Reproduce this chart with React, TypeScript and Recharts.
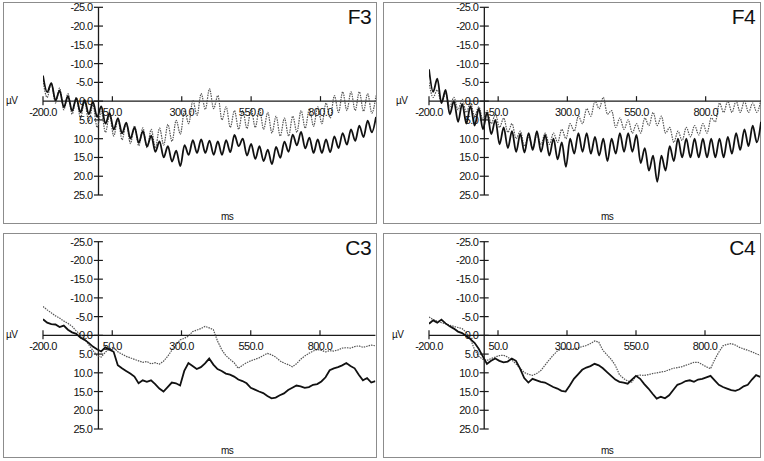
import React from 'react';
import { LineChart, Line, XAxis, YAxis, ReferenceLine, ReferenceDot } from 'recharts';

// sample times (ms) shared by every trace
const times = [
  -200, -185, -170, -155, -140, -125, -110, -95, -80, -65,
  -50, -35, -20, -5, 10, 25, 40, 55, 70, 85,
  100, 115, 130, 145, 160, 175, 190, 205, 220, 235,
  250, 265, 280, 295, 310, 325, 340, 355, 370, 385,
  400, 415, 430, 445, 460, 475, 490, 505, 520, 535,
  550, 565, 580, 595, 610, 625, 640, 655, 670, 685,
  700, 715, 730, 745, 760, 775, 790, 805, 820, 835,
  850, 865, 880, 895, 910, 925, 940, 955, 970, 985,
  1000,
];

const xTicks = [-200, 50, 300, 550, 800];
const yTicks = [-25, -20, -15, -10, -5, 0, 5, 10, 15, 20, 25];

// µV, negative up
const f3Solid = [
  -6.8, -2.4, -4.8, -0.2, -2.8, 1.6, -1.3, 2.6, -0.8, 3.0,
  -0.3, 3.5, 0.2, 4.2, 1.4, 6.0, 3.2, 7.6, 4.5, 8.6,
  5.7, 10.0, 7.0, 11.1, 8.0, 12.1, 9.2, 13.5, 10.7, 15.0,
  12.0, 16.1, 13.2, 17.3, 11.7, 14.3, 10.4, 13.8, 10.2, 13.8,
  10.5, 14.3, 10.7, 14.3, 10.4, 13.6, 9.0, 12.0, 10.0, 14.5,
  11.4, 15.4, 12.0, 16.0, 12.9, 16.8, 12.2, 15.1, 10.8, 13.5,
  8.9, 11.8, 8.2, 12.6, 9.7, 13.8, 10.2, 13.8, 10.2, 13.6,
  9.4, 12.5, 8.5, 11.6, 7.5, 10.6, 6.5, 9.6, 5.2, 8.3,
  4.2,
];
const f3Dotted = [
  -5.5, -1.0, -4.8, 0.5, -3.5, 2.3, -2.0, 3.5, -1.0, 4.5,
  0.0, 5.5, 1.0, 7.0, 2.8, 8.3, 3.8, 9.3, 4.8, 10.3,
  5.8, 11.3, 6.6, 11.9, 7.1, 12.4, 7.5, 12.5, 7.2, 11.7,
  6.2, 10.7, 5.1, 8.8, 2.5, 6.0, -0.2, 3.8, -2.0, 2.2,
  -3.3, 2.0, -1.5, 5.0, 1.5, 7.0, 2.5, 7.5, 2.5, 7.3,
  2.0, 7.0, 2.0, 7.5, 3.0, 8.5, 4.0, 9.3, 4.5, 9.3,
  4.0, 8.3, 2.5, 7.2, 2.0, 6.7, 1.5, 6.0, 0.5, 4.5,
  -1.5, 3.0, -2.5, 2.5, -2.5, 2.5, -2.5, 2.7, -2.0, 3.2,
  -1.5,
];

const f4Solid = [
  -8.5, -2.5, -6.0, 0.5, -3.0, 3.5, 0.0, 5.5, 0.7, 6.0,
  1.3, 6.5, 2.0, 7.5, 3.0, 8.8, 5.0, 11.5, 7.0, 12.5,
  8.0, 13.5, 8.7, 13.7, 8.5, 13.0, 8.0, 13.5, 9.0, 14.5,
  10.0, 15.5, 11.0, 17.5, 10.0, 14.0, 8.5, 13.5, 8.5, 14.0,
  9.5, 14.5, 10.0, 16.0, 10.0, 14.0, 8.5, 13.5, 8.5, 13.5,
  9.0, 16.5, 12.5, 18.5, 14.5, 21.5, 14.5, 18.5, 12.0, 16.0,
  10.0, 15.0, 10.0, 15.0, 10.0, 15.0, 10.0, 15.0, 10.0, 15.0,
  10.0, 15.0, 9.5, 14.0, 8.5, 13.0, 7.5, 12.0, 6.5, 11.0,
  5.5,
];
const f4Dotted = [
  -5.0, -1.0, -3.0, 0.5, -2.0, 1.5, -1.0, 2.3, -0.5, 3.0,
  0.5, 4.0, 1.5, 5.0, 2.5, 6.0, 3.5, 7.0, 4.5, 8.3,
  6.0, 10.0, 8.0, 12.0, 9.5, 12.5, 9.0, 11.5, 8.5, 11.5,
  8.5, 11.0, 7.5, 10.0, 6.0, 8.0, 4.0, 6.0, 2.0, 4.0,
  0.0, 2.0, -1.0, 3.5, 2.5, 7.0, 4.5, 7.5, 5.0, 8.5,
  6.0, 8.5, 4.5, 6.5, 3.0, 6.5, 4.0, 8.5, 7.0, 11.0,
  8.0, 10.5, 7.0, 9.5, 6.5, 9.0, 6.0, 8.5, 4.5, 5.5,
  0.5, 3.0, 0.0, 3.0, 0.0, 3.0, 0.0, 3.0, 0.5, 3.0,
  -0.5,
];

const c3Solid = [
  -4.3, -3.4, -3.0, -2.9, -2.2, -2.6, -1.5, -0.8, -0.4, 0.6,
  1.2, 2.0, 3.0, 3.7, 4.3, 3.2, 3.8, 4.4, 8.0, 8.8,
  9.5, 10.2, 11.0, 12.8, 12.0, 12.4, 12.0, 13.0, 14.2, 15.0,
  13.8, 12.6, 12.8, 13.4, 9.5, 7.4, 8.2, 9.0, 8.5, 7.5,
  6.2, 7.8, 9.0, 9.5, 10.2, 10.5, 11.0, 11.8, 12.2, 12.8,
  14.0, 14.5, 15.0, 15.4, 16.2, 16.8, 16.6, 16.0, 15.5, 14.6,
  14.0, 13.4, 13.6, 14.0, 13.8, 13.2, 13.0, 12.3, 11.2, 9.3,
  8.8, 8.5, 8.0, 7.4, 8.2, 8.8, 10.5, 12.0, 11.4, 12.6,
  12.2,
];
const c3Dotted = [
  -7.7, -6.8, -6.0, -5.2, -4.6, -3.8, -3.2, -2.4, -1.2, -0.2,
  0.8, 2.5, 4.0, 5.4, 5.8, 4.5, 3.6, 3.2, 4.4, 5.0,
  5.6, 6.0, 6.4, 6.8, 7.2, 7.0, 7.6, 7.3, 7.7, 6.9,
  5.6, 4.0, 2.6, 1.2, 0.8, 0.2, -1.0, -1.4, -1.8, -2.4,
  -2.0, -1.5, 1.5, 3.8, 5.4, 6.4, 7.3, 8.8, 8.0, 7.3,
  6.8, 6.4, 6.0, 5.4, 4.8, 5.2, 5.8, 6.8, 7.4, 7.8,
  8.4, 7.6, 6.4, 5.5, 4.8, 4.2, 3.8, 4.0, 4.4, 4.1,
  4.2, 3.9, 3.4, 3.3, 3.4, 3.0, 2.8, 3.2, 2.9, 2.6,
  2.8,
];

const c4Solid = [
  -3.1, -4.0, -3.4, -4.2, -3.2, -2.4, -1.8, -1.0, -0.6, 0.2,
  1.0, 2.0, 3.6, 5.6, 7.6, 6.8, 6.2, 6.8, 7.2, 7.0,
  6.2, 6.8, 8.9, 11.4, 12.6, 11.6, 12.0, 12.4, 12.6, 13.2,
  13.8, 14.2, 14.8, 15.0, 13.4, 11.6, 10.4, 9.2, 8.6, 8.2,
  7.6, 8.0, 8.8, 9.8, 10.8, 11.8, 12.4, 12.6, 12.9, 11.8,
  10.8, 11.6, 13.0, 14.2, 15.6, 16.9, 16.4, 16.8, 16.0, 14.6,
  13.2, 12.8, 12.2, 12.0, 12.4, 11.8, 11.6, 11.2, 10.8, 12.0,
  13.2, 13.8, 14.2, 14.6, 14.8, 14.4, 13.6, 13.2, 11.8, 10.6,
  11.1,
];
const c4Dotted = [
  -4.9, -4.2, -3.8, -3.4, -3.1, -2.7, -2.4, -2.1, -1.8, -0.8,
  0.9, 3.8, 5.6, 6.4, 6.7, 6.2, 5.8, 5.4, 5.3, 5.8,
  6.6, 7.6, 8.8, 9.9, 10.4, 10.7, 10.2, 9.4, 8.0, 6.6,
  5.3, 4.2, 3.6, 3.6, 3.8, 3.6, 3.4, 3.0, 2.7, 2.2,
  1.5, 1.8, 4.0, 5.2, 6.4, 8.0, 10.5, 11.5, 12.2, 12.5,
  10.8, 10.6, 10.7, 10.5, 10.2, 10.0, 9.8, 9.6, 9.2, 8.8,
  8.6, 8.4, 8.0, 7.6, 7.2, 7.2, 7.8, 8.4, 8.9, 6.5,
  4.5, 2.8, 2.4, 2.2, 2.6, 3.2, 3.6, 4.0, 4.4, 4.9,
  5.3,
];

const INK = '#1a1a1a';
const FONT = "'Liberation Sans', Arial, Helvetica, sans-serif";

interface Box {
  left: number;
  top: number;
  width: number;
  height: number;
  margin: { top: number; right: number; bottom: number; left: number };
  unitX: number;
}

const boxF3: Box = { left: 3, top: 2, width: 374, height: 222, margin: { top: 5.3, right: 1, bottom: 29, left: 40 }, unitX: 2 };
const boxF4: Box = { left: 383, top: 2, width: 378, height: 222, margin: { top: 5.3, right: 0, bottom: 29, left: 46 }, unitX: 12 };
const boxC3: Box = { left: 3, top: 233, width: 374, height: 225, margin: { top: 8.7, right: 1.6, bottom: 29, left: 40 }, unitX: 2 };
const boxC4: Box = { left: 383, top: 233, width: 378, height: 225, margin: { top: 8.7, right: 0.8, bottom: 29, left: 46 }, unitX: 8 };

function YTick({ cx, cy, label }: any) {
  return (
    <g>
      <line x1={cx - 4.5} x2={cx + 4.5} y1={cy} y2={cy} stroke={INK} strokeWidth={1.2} />
      <text x={cx - 6} y={cy} dy="0.36em" textAnchor="end" fontSize={11} fill="#111">
        {label}
      </text>
    </g>
  );
}

function XTick({ cx, cy, label, first }: any) {
  return (
    <g>
      <line x1={cx} x2={cx} y1={cy - 5} y2={first ? cy + 4 : cy} stroke={INK} strokeWidth={1.2} />
      <text x={cx} y={cy + 15} textAnchor="middle" fontSize={11} fill="#111">
        {label}
      </text>
    </g>
  );
}

function ErpPanel({ title, solid, dotted, box, curve }: { title: string; solid: number[]; dotted: number[]; box: Box; curve: 'monotone' | 'linear' }) {
  const data = times.map((t, i) => ({ t, solid: solid[i], dotted: dotted[i] }));
  return (
    <div
      style={{
        position: 'absolute',
        left: box.left,
        top: box.top,
        width: box.width,
        height: box.height,
        border: '1px solid #8c8c8c',
        boxSizing: 'border-box',
      }}
    >
      <div style={{ position: 'absolute', left: -1, top: -1 }}>
        <LineChart width={box.width} height={box.height} data={data} margin={box.margin}>
          <XAxis dataKey="t" type="number" domain={[-200, 1000]} hide allowDataOverflow />
          <YAxis type="number" domain={[-25, 25]} reversed hide allowDataOverflow />
          <ReferenceLine x={0} stroke={INK} strokeWidth={1.3} ifOverflow="visible" />
          <ReferenceLine y={0} stroke={INK} strokeWidth={1.3} ifOverflow="visible" />
          {yTicks.map((v) => (
            <ReferenceDot
              key={'y' + v}
              x={0}
              y={v}
              r={0}
              ifOverflow="visible"
              shape={(p: any) => <YTick cx={p.cx} cy={p.cy} label={v.toFixed(1)} />}
            />
          ))}
          {xTicks.map((t, i) => (
            <ReferenceDot
              key={'x' + t}
              x={t}
              y={0}
              r={0}
              ifOverflow="visible"
              shape={(p: any) => <XTick cx={p.cx} cy={p.cy} label={t.toFixed(1)} first={i === 0} />}
            />
          ))}
          <Line
            type={curve}
            dataKey="dotted"
            stroke="#555"
            strokeWidth={1.2}
            strokeDasharray="1.5 1"
            dot={false}
            activeDot={false}
            isAnimationActive={false}
          />
          <Line
            type={curve}
            dataKey="solid"
            stroke="#111"
            strokeWidth={1.8}
            dot={false}
            activeDot={false}
            isAnimationActive={false}
          />
        </LineChart>
      </div>
      <div
        style={{
          position: 'absolute',
          right: 5,
          top: 3,
          fontSize: 21,
          lineHeight: 1,
          color: '#111',
        }}
      >
        {title}
      </div>
      <div
        style={{
          position: 'absolute',
          left: box.unitX,
          top: (box.margin.top + box.height - box.margin.bottom) / 2 - 6,
          fontSize: 10,
          lineHeight: 1,
          color: '#111',
        }}
      >
        µV
      </div>
      <div
        style={{
          position: 'absolute',
          left: 203,
          width: 40,
          top: box.height - 13,
          fontSize: 10,
          lineHeight: 1,
          textAlign: 'center',
          color: '#111',
        }}
      >
        ms
      </div>
    </div>
  );
}

export default function App() {
  return (
    <div
      style={{
        position: 'absolute',
        left: 0,
        top: 0,
        width: 764,
        height: 461,
        background: '#fff',
        fontFamily: FONT,
        letterSpacing: '-0.6px',
        overflow: 'hidden',
      }}
    >
      <ErpPanel title="F3" solid={f3Solid} dotted={f3Dotted} box={boxF3} curve="monotone" />
      <ErpPanel title="F4" solid={f4Solid} dotted={f4Dotted} box={boxF4} curve="monotone" />
      <ErpPanel title="C3" solid={c3Solid} dotted={c3Dotted} box={boxC3} curve="linear" />
      <ErpPanel title="C4" solid={c4Solid} dotted={c4Dotted} box={boxC4} curve="linear" />
    </div>
  );
}
